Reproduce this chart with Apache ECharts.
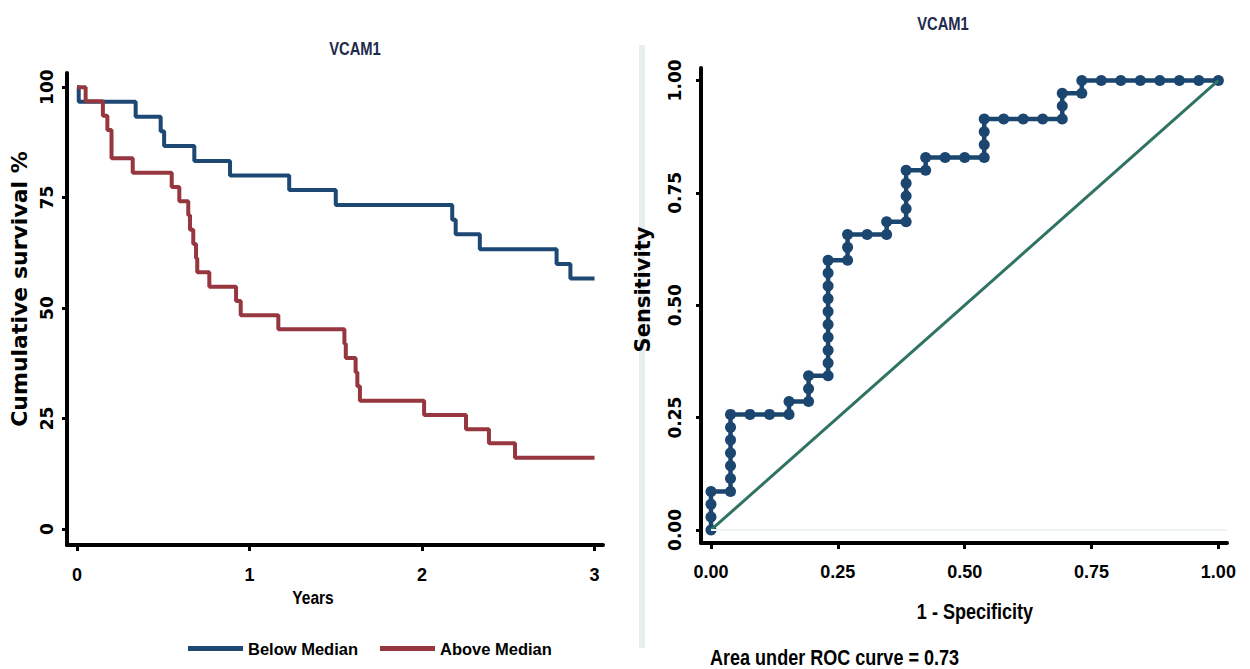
<!DOCTYPE html>
<html>
<head>
<meta charset="utf-8">
<title>VCAM1</title>
<script src="https://cdn.jsdelivr.net/npm/echarts@6/dist/echarts.min.js"></script>
<style>
  html, body { margin: 0; padding: 0; background: #ffffff; }
  #chart { width: 1250px; height: 669px; }
</style>
</head>
<body>
<div id="chart"></div>
<script>
// Kaplan-Meier survival, VCAM1 below median
const belowYears = [0, 0.01, 0.34, 0.485, 0.505, 0.68, 0.887, 1.23, 1.50, 2.175, 2.195, 2.335, 2.78, 2.86, 3.0];
const belowSurvival = [100, 96.7, 93.3, 90.0, 86.7, 83.3, 80.0, 76.7, 73.3, 70.0, 66.7, 63.3, 60.0, 56.7, 56.7];

// Kaplan-Meier survival, VCAM1 above median
const aboveYears = [0, 0.05, 0.15, 0.176, 0.2, 0.323, 0.549, 0.593, 0.645, 0.655, 0.674, 0.69, 0.697, 0.767, 0.922, 0.949, 1.167, 1.55, 1.558, 1.615, 1.625, 1.64, 2.012, 2.255, 2.388, 2.539, 3.0];
const aboveSurvival = [100, 96.8, 93.5, 90.3, 83.9, 80.6, 77.4, 74.2, 71.0, 67.7, 64.5, 61.3, 58.1, 54.8, 51.6, 48.4, 45.2, 41.9, 38.7, 35.5, 32.3, 29.0, 25.8, 22.6, 19.4, 16.1, 16.1];

// ROC curve points (1 - specificity, sensitivity)
const rocFpr = [
  0, 0, 0, 0,
  0.0385, 0.0385, 0.0385, 0.0385, 0.0385, 0.0385, 0.0385,
  0.0769, 0.1154,
  0.1538, 0.1538,
  0.1923, 0.1923, 0.1923,
  0.2308, 0.2308, 0.2308, 0.2308, 0.2308, 0.2308, 0.2308, 0.2308, 0.2308, 0.2308,
  0.2692, 0.2692, 0.2692,
  0.3077,
  0.3462, 0.3462,
  0.3846, 0.3846, 0.3846, 0.3846, 0.3846,
  0.4231, 0.4231,
  0.4615, 0.5,
  0.5385, 0.5385, 0.5385, 0.5385,
  0.5769, 0.6154, 0.6538,
  0.6923, 0.6923, 0.6923,
  0.7308, 0.7308,
  0.7692, 0.8077, 0.8462, 0.8846, 0.9231, 0.9615, 1
];
const rocTpr = [
  0, 0.0286, 0.0571, 0.0857,
  0.0857, 0.1143, 0.1429, 0.1714, 0.2, 0.2286, 0.2571,
  0.2571, 0.2571,
  0.2571, 0.2857,
  0.2857, 0.3143, 0.3429,
  0.3429, 0.3714, 0.4, 0.4286, 0.4571, 0.4857, 0.5143, 0.5429, 0.5714, 0.6,
  0.6, 0.6286, 0.6571,
  0.6571,
  0.6571, 0.6857,
  0.6857, 0.7143, 0.7429, 0.7714, 0.8,
  0.8, 0.8286,
  0.8286, 0.8286,
  0.8286, 0.8571, 0.8857, 0.9143,
  0.9143, 0.9143, 0.9143,
  0.9143, 0.9429, 0.9714,
  0.9714, 1,
  1, 1, 1, 1, 1, 1, 1
];

// Chance diagonal
const refX = [0, 1];
const refY = [0, 1];

const aucValue = 0.73;

// Tick labels
const survivalTicks = [0, 25, 50, 75, 100];
const yearTicks = [0, 1, 2, 3];
const rocTicks = [0, 0.25, 0.5, 0.75, 1];

const BLUE = '#1c4873';
const RED = '#96363f';
const ROC_BLUE = '#1b4670';
const GREEN = '#2f7363';
const SANS = "'Liberation Sans', Arial, sans-serif";
const WIDE = "'DejaVu Sans', 'Liberation Sans', sans-serif";

const zip = (xs, ys) => xs.map((x, i) => [x, ys[i]]);

// Condensed bold caption, squeezed horizontally to an Arial Narrow look
function caption(text, x, y, size, color, align) {
  return {
    type: 'text', x: x, y: y, scaleX: 0.82, z: 10,
    style: {
      text: text, fontFamily: SANS, fontWeight: 'bold', fontSize: size,
      fill: color || '#000', align: align || 'center', verticalAlign: 'middle'
    }
  };
}

const chart = echarts.init(document.getElementById('chart'), null, { renderer: 'svg' });

const axisLine = { show: true, onZero: false, lineStyle: { color: '#000', width: 4 } };
const axisTickStyle = { lineStyle: { color: '#000', width: 3 } };

chart.setOption({
  backgroundColor: '#ffffff',
  animation: false,
  graphic: [
    {
      type: 'rect', left: 639, top: 45, z: -1,
      shape: { width: 6, height: 603 },
      style: { fill: '#e8eef0' }
    },
    caption('VCAM1', 355, 48, 18, '#1e2b4d'),
    caption('VCAM1', 943, 23, 18, '#1e2b4d'),
    caption('Years', 313, 597, 19),
    caption('1 - Specificity', 975, 611, 22),
    caption('Area under ROC curve = ' + aucValue.toFixed(2), 710, 657, 22, '#000', 'left')
  ],
  legend: {
    data: ['Below Median', 'Above Median'],
    left: 183, top: 635,
    icon: 'rect', itemWidth: 55, itemHeight: 5, itemGap: 22,
    textStyle: { fontFamily: SANS, fontWeight: 'bold', fontSize: 16.5, color: '#000' }
  },
  grid: [
    { left: 67, top: 73, width: 536, height: 472, containLabel: false },
    { left: 701, top: 68, width: 526, height: 475, containLabel: false }
  ],
  xAxis: [
    {
      gridIndex: 0, type: 'value', min: -0.058, max: 3.049,
      axisLine: axisLine,
      axisTick: Object.assign({ customValues: yearTicks, length: 6 }, axisTickStyle),
      axisLabel: { customValues: yearTicks, margin: 21, fontFamily: SANS, fontWeight: 'bold', fontSize: 18, color: '#000' },
      splitLine: { show: false }
    },
    {
      gridIndex: 1, type: 'value', min: -0.0197, max: 1.017,
      axisLine: axisLine,
      axisTick: Object.assign({ customValues: rocTicks, length: 6 }, axisTickStyle),
      axisLabel: {
        customValues: rocTicks, margin: 20, fontFamily: SANS, fontWeight: 'bold', fontSize: 18, color: '#000',
        formatter: v => v.toFixed(2)
      },
      splitLine: { show: false }
    }
  ],
  yAxis: [
    {
      gridIndex: 0, type: 'value', min: -3.62, max: 103.2,
      axisLine: axisLine,
      axisTick: Object.assign({ customValues: survivalTicks, length: 5 }, axisTickStyle),
      axisLabel: { customValues: survivalTicks, rotate: 90, margin: 12, fontFamily: WIDE, fontWeight: 'bold', fontSize: 17, color: '#000' },
      splitLine: { show: false },
      name: 'Cumulative survival %', nameLocation: 'middle', nameRotate: 90, nameGap: 37,
      nameTextStyle: { fontFamily: WIDE, fontWeight: 'bold', fontSize: 22, color: '#000', padding: [0, 0, 0, 40] }
    },
    {
      gridIndex: 1, type: 'value', min: -0.029, max: 1.0276,
      axisLine: axisLine,
      axisTick: Object.assign({ customValues: rocTicks, length: 5 }, axisTickStyle),
      axisLabel: {
        customValues: rocTicks, rotate: 90, margin: 18, fontFamily: WIDE, fontWeight: 'bold', fontSize: 17, color: '#000',
        formatter: v => v.toFixed(2)
      },
      splitLine: { show: false },
      name: 'Sensitivity', nameLocation: 'middle', nameRotate: 90, nameGap: 48,
      nameTextStyle: { fontFamily: WIDE, fontWeight: 'bold', fontSize: 21, color: '#000', padding: [0, 0, 0, 32] }
    }
  ],
  series: [
    {
      name: 'Below Median', type: 'line', xAxisIndex: 0, yAxisIndex: 0,
      step: 'end', showSymbol: false, color: BLUE,
      lineStyle: { color: BLUE, width: 4 },
      data: zip(belowYears, belowSurvival)
    },
    {
      name: 'Above Median', type: 'line', xAxisIndex: 0, yAxisIndex: 0,
      step: 'end', showSymbol: false, color: RED,
      lineStyle: { color: RED, width: 4 },
      data: zip(aboveYears, aboveSurvival)
    },
    {
      name: 'ROC', type: 'line', xAxisIndex: 1, yAxisIndex: 1,
      symbol: 'circle', symbolSize: 11, showAllSymbol: true,
      itemStyle: { color: ROC_BLUE },
      lineStyle: { color: ROC_BLUE, width: 4.5 },
      data: zip(rocFpr, rocTpr),
      markLine: {
        silent: true, symbol: 'none', label: { show: false },
        lineStyle: { color: '#edf2f2', width: 2, type: 'solid' },
        data: [[{ coord: [0, 0] }, { coord: [1.017, 0] }]]
      },
      z: 3
    },
    {
      name: 'Reference', type: 'line', xAxisIndex: 1, yAxisIndex: 1,
      showSymbol: false, color: GREEN,
      lineStyle: { color: GREEN, width: 3 },
      data: zip(refX, refY),
      z: 4
    }
  ]
});
</script>
</body>
</html>
